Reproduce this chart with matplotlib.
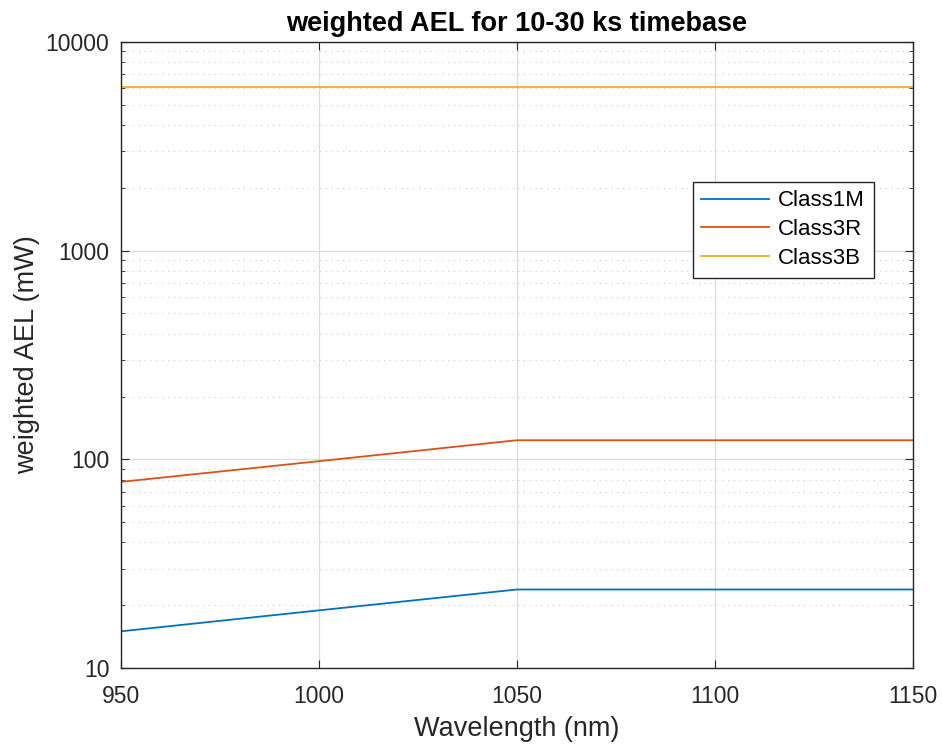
import matplotlib
matplotlib.use("Agg")
import matplotlib.pyplot as plt
from matplotlib.ticker import FixedLocator, LogLocator, NullFormatter

plt.rcParams['font.family'] = ['Liberation Sans', 'DejaVu Sans']

wavelength = [950, 1000, 1050, 1100, 1150]
class1m = [15.0, 18.9, 23.8, 23.8, 23.8]
class3r = [78.0, 98.0, 123.5, 123.5, 123.5]
class3b = [6100, 6100, 6100, 6100, 6100]
labels = ["Class1M", "Class3R", "Class3B"]

fig = plt.figure(figsize=(9.42, 7.49), dpi=100)
ax = fig.add_axes([0.128, 0.108, 0.841, 0.836])

ax.plot(wavelength, class1m, color=(0, 0.447, 0.741), lw=1.3, label=labels[0])
ax.plot(wavelength, class3r, color=(0.85, 0.325, 0.098), lw=1.3, label=labels[1])
ax.plot(wavelength, class3b, color=(0.929, 0.694, 0.125), lw=1.3, label=labels[2])

ax.set_yscale('log')
ax.set_xlim(950, 1150)
ax.set_ylim(10, 10000)
ax.xaxis.set_major_locator(FixedLocator([950, 1000, 1050, 1100, 1150]))
ax.yaxis.set_major_locator(FixedLocator([10, 100, 1000, 10000]))
ax.set_yticklabels(["10", "100", "1000", "10000"])
ax.yaxis.set_minor_locator(LogLocator(base=10, subs=range(2, 10)))
ax.yaxis.set_minor_formatter(NullFormatter())

ax.grid(True, which='major', color='#dcdcdc', lw=0.9)
ax.grid(True, which='minor', axis='y', color='#c0c0c0', lw=0.7, ls=(0, (1, 5)))
ax.set_axisbelow(True)

ax.tick_params(which='both', direction='in', top=True, right=True, labelsize=16.5, colors='#262626')
ax.tick_params(which='major', length=6)
ax.tick_params(which='minor', length=3)
ax.tick_params(axis='y', which='major', pad=8)
ax.tick_params(axis='x', which='major', pad=12)
for s in ax.spines.values():
    s.set_color('#262626')
    s.set_linewidth(1.0)

ax.set_xlabel("Wavelength (nm)", fontsize=19.5, color='#262626', labelpad=6)
ax.set_ylabel("weighted AEL (mW)", fontsize=19.5, color='#262626', labelpad=4)
ax.set_title("weighted AEL for 10-30 ks timebase", fontsize=19.5, fontweight='bold', pad=8)

leg = ax.legend(loc='upper left', bbox_to_anchor=(0.722, 0.777), fontsize=16, fancybox=False,
                edgecolor='#262626', framealpha=1, handlelength=3.05, borderpad=0.4,
                labelspacing=0.35, handletextpad=0.4, borderaxespad=0)
leg.get_frame().set_linewidth(1.0)

fig.savefig("out.png", dpi=100)
